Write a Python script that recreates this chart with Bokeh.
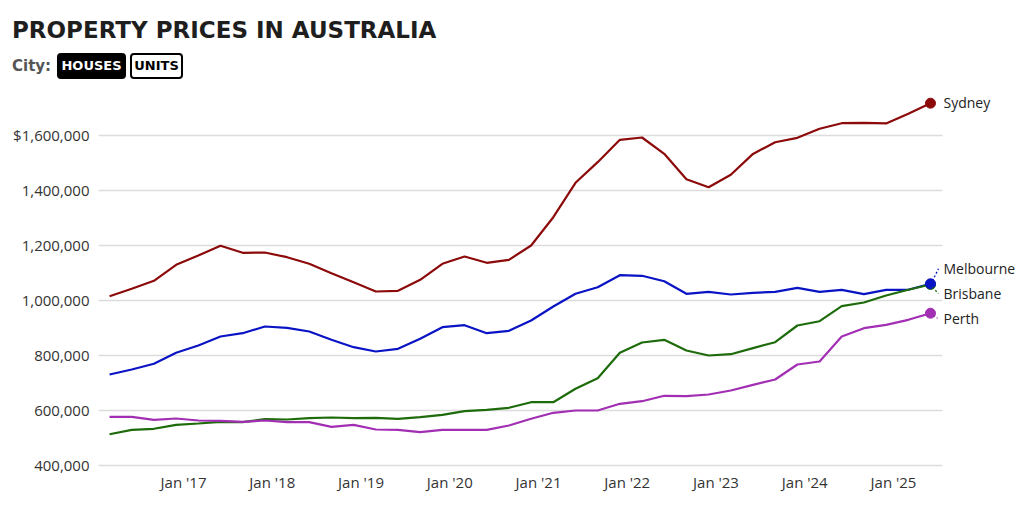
from bokeh.plotting import figure
from bokeh.models import Range1d, FixedTicker, Div
from bokeh.layouts import column
from bokeh.core.properties import value
from bokeh.embed import file_html
from bokeh.resources import INLINE

# ---------------- data ----------------
dates = ["2016-03", "2016-06", "2016-09", "2016-12",
         "2017-03", "2017-06", "2017-09", "2017-12",
         "2018-03", "2018-06", "2018-09", "2018-12",
         "2019-03", "2019-06", "2019-09", "2019-12",
         "2020-03", "2020-06", "2020-09", "2020-12",
         "2021-03", "2021-06", "2021-09", "2021-12",
         "2022-03", "2022-06", "2022-09", "2022-12",
         "2023-03", "2023-06", "2023-09", "2023-12",
         "2024-03", "2024-06", "2024-09", "2024-12",
         "2025-03", "2025-06"]

sydney = [1015600, 1042500, 1071600, 1129800, 1163600, 1198900, 1173500, 1174500,
          1157500, 1133500, 1099300, 1066500, 1032700, 1035300, 1075300, 1133500,
          1160000, 1137100, 1148000, 1200000, 1302900, 1428000, 1503000, 1584300,
          1592700, 1533500, 1441100, 1412000, 1457100, 1533000, 1575600, 1591600,
          1624400, 1644700, 1646000, 1644000, 1678900, 1717500]
melbourne = [730900, 749100, 769800, 809800, 836400, 869100, 881100, 905500,
             900700, 887300, 857100, 830200, 814500, 824400, 860700, 902900,
             910200, 881100, 889800, 927300, 978200, 1024400, 1048400, 1092000,
             1089800, 1070200, 1024400, 1031600, 1021800, 1028000, 1031600, 1046200,
             1031600, 1038900, 1022900, 1038900, 1038900, 1060700]
brisbane = [513800, 529800, 533500, 548000, 552700, 558900, 557500, 568400,
            567300, 572000, 574500, 572000, 573500, 569800, 575600, 584400,
            597500, 602500, 609800, 630200, 630200, 678900, 717500, 809800,
            847300, 857100, 818200, 800000, 804700, 827000, 848400, 909100,
            924700, 979300, 992700, 1018200, 1038900, 1058200]
perth = [577100, 577100, 566200, 570900, 563600, 562500, 558900, 563600,
         557500, 557500, 540700, 548000, 530900, 529800, 521100, 529800,
         529800, 529800, 545500, 569800, 591600, 600000, 600000, 624400,
         633800, 653500, 652000, 658200, 672700, 693000, 712700, 767300,
         778200, 869100, 899300, 911600, 929800, 953800]

cities = ["Sydney", "Melbourne", "Brisbane", "Perth"]
series = [sydney, melbourne, brisbane, perth]
colors = ["#8c0a0a", "#0a14c4", "#1d6b0a", "#a22fb3"]

y_ticks = [400000, 600000, 800000, 1000000, 1200000, 1400000, 1600000]
y_labels = ["400,000", "600,000", "800,000", "1,000,000", "1,200,000", "1,400,000", "$1,600,000"]
x_ticks = [2017, 2018, 2019, 2020, 2021, 2022, 2023, 2024, 2025]
x_labels = ["Jan '17", "Jan '18", "Jan '19", "Jan '20", "Jan '21", "Jan '22", "Jan '23", "Jan '24", "Jan '25"]

title_text = "PROPERTY PRICES IN AUSTRALIA"
selector_label = "City:"
buttons = ["HOUSES", "UNITS"]

# ---------------- layout constants ----------------
FONT = "Open Sans"
HEAD_FONT = "DejaVu Sans"
W = 1024
HEAD_H = 90
H = 509 - HEAD_H
LEFT, BOTTOM = 98, 39
X0, X1 = 2016.042, 2026.476
Y0, Y1 = 381818, 1763636
GRID_X1 = 2025.552
PX_X = (X1 - X0) / (W - LEFT)
PX_Y = (Y1 - Y0) / (H - BOTTOM)

t = [int(d[:4]) + (int(d[5:7]) - 1) / 12 for d in dates]

# ---------------- header ----------------
header_html = f"""
<div style="position:relative;width:{W}px;height:{HEAD_H}px;font-family:'{HEAD_FONT}';">
  <div style="position:absolute;left:12px;top:19px;font-size:23px;line-height:23px;
              font-weight:bold;color:#1e1e1e;white-space:nowrap;">{title_text}</div>
  <div style="position:absolute;left:12px;top:59px;font-size:15px;line-height:15px;
              font-weight:bold;color:#555555;white-space:nowrap;">{selector_label}</div>
  <div style="position:absolute;left:57px;top:53px;width:69px;height:26px;box-sizing:border-box;
              background:#000;border:2px solid #000;border-radius:4px;color:#fff;
              font-size:13px;font-weight:bold;display:flex;align-items:center;
              justify-content:center;">{buttons[0]}</div>
  <div style="position:absolute;left:130px;top:53px;width:53px;height:26px;box-sizing:border-box;
              background:#fff;border:2px solid #000;border-radius:4px;color:#000;
              font-size:13px;font-weight:bold;display:flex;align-items:center;
              justify-content:center;">{buttons[1]}</div>
</div>
"""
header = Div(text=header_html, width=W, height=HEAD_H, margin=0)

# ---------------- chart ----------------
p = figure(width=W, height=H, output_backend="svg", toolbar_location=None,
           x_range=Range1d(X0, X1), y_range=Range1d(Y0, Y1),
           min_border_left=LEFT, min_border_right=0, min_border_top=0,
           min_border_bottom=BOTTOM, outline_line_color=None, margin=0)
p.title.visible = False
p.grid.visible = False

p.segment(x0=[X0] * len(y_ticks), x1=[GRID_X1] * len(y_ticks), y0=y_ticks, y1=y_ticks,
          line_color="#dcdcdc", line_width=1.5)

for ax in (p.xaxis[0], p.yaxis[0]):
    ax.axis_line_color = None
    ax.major_tick_line_color = None
    ax.minor_tick_line_color = None
    ax.major_tick_out = 0
    ax.major_tick_in = 0
    ax.major_label_text_font = FONT
    ax.major_label_text_font_size = "15px"
    ax.major_label_text_color = "#333333"
p.yaxis[0].ticker = FixedTicker(ticks=y_ticks)
p.yaxis[0].major_label_overrides = {v: s for v, s in zip(y_ticks, y_labels)}
p.yaxis[0].major_label_standoff = 9
p.xaxis[0].ticker = FixedTicker(ticks=x_ticks)
p.xaxis[0].major_label_overrides = {v: s for v, s in zip(x_ticks, x_labels)}
p.xaxis[0].major_label_standoff = 1

for vals, c in zip(series, colors):
    p.line(t, vals, line_color=c, line_width=2.2)

for i in [0, 2, 1, 3]:
    p.scatter([t[-1]], [series[i][-1]], size=10, fill_color=colors[i], line_color=colors[i])

lead = {1: ((2, -3), (8, -15)), 2: ((2, 3), (8, 9)), 3: ((3, 2), (7, 5))}
for i, ((ax0, ay0), (ax1, ay1)) in lead.items():
    p.segment(x0=[t[-1] + ax0 * PX_X], y0=[series[i][-1] - ay0 * PX_Y],
              x1=[t[-1] + ax1 * PX_X], y1=[series[i][-1] - ay1 * PX_Y],
              line_color=colors[i], line_width=1.3, line_dash="2 2")

label_dy = [-1, -15, 9, 5]
for i in range(4):
    p.text([t[-1]], [series[i][-1]], text=[cities[i]], x_offset=13, y_offset=label_dy[i],
           text_font=value(FONT), text_font_size="14px", text_color="#222222",
           text_baseline="middle", text_align="left")

layout = column(header, p, spacing=0, margin=0)
open("out.html", "w").write(file_html(layout, INLINE))
